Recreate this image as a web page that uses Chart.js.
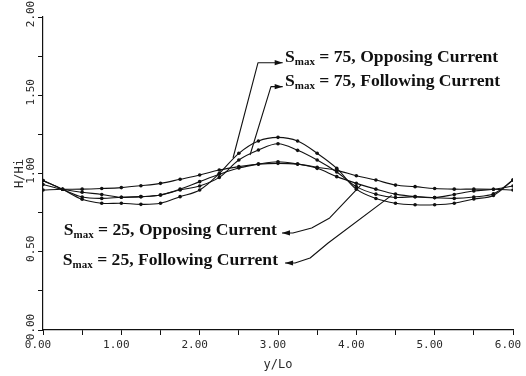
<!DOCTYPE html>
<html>
<head>
<meta charset="utf-8">
<script src="https://cdn.jsdelivr.net/npm/chart.js@4.4.1/dist/chart.umd.min.js"></script>
<style>
  html, body { margin: 0; padding: 0; background: #ffffff; }
  #wrap { width: 526px; height: 376px; position: relative; }
</style>
</head>
<body>
<div id="wrap"><canvas id="c" width="526" height="376"></canvas></div>
<script>
// ---- data ----
const xValues = [0, 0.25, 0.5, 0.75, 1, 1.25, 1.5, 1.75, 2, 2.25, 2.5, 2.75, 3,
                 3.25, 3.5, 3.75, 4, 4.25, 4.5, 4.75, 5, 5.25, 5.5, 5.75, 6];
const smax75Opposing = [0.955, 0.899, 0.835, 0.81, 0.81, 0.803, 0.81, 0.852, 0.895, 1.0, 1.129, 1.208, 1.231,
                        1.208, 1.129, 1.033, 0.9, 0.84, 0.81, 0.80, 0.80, 0.81, 0.837, 0.86, 0.958];
const smax75Following = [0.955, 0.899, 0.85, 0.841, 0.848, 0.852, 0.863, 0.895, 0.92, 0.975, 1.086, 1.15, 1.19,
                         1.148, 1.086, 1.01, 0.916, 0.868, 0.847, 0.852, 0.846, 0.841, 0.85, 0.87, 0.958];
const smax25Opposing = [0.93, 0.899, 0.88, 0.866, 0.848, 0.852, 0.863, 0.90, 0.948, 0.995, 1.035, 1.06, 1.075,
                        1.06, 1.033, 0.98, 0.937, 0.90, 0.868, 0.852, 0.846, 0.866, 0.888, 0.899, 0.92];
const smax25Following = [0.895, 0.899, 0.90, 0.904, 0.91, 0.922, 0.937, 0.963, 0.99, 1.022, 1.044, 1.06, 1.065,
                         1.06, 1.04, 1.02, 0.986, 0.958, 0.926, 0.916, 0.904, 0.90, 0.90, 0.899, 0.895];
const seriesNames = ['Smax = 75, Opposing Current', 'Smax = 75, Following Current',
                     'Smax = 25, Opposing Current', 'Smax = 25, Following Current'];
const yTickLabels = ['0.00', '0.50', '1.00', '1.50', '2.00'];
const yTickValues = [0, 0.5, 1, 1.5, 2];
const xTitle = 'y/Lo';
const yTitle = 'H/Hi';

// annotation labels: [value shown, current name]
const annotationTexts = [
  ['75', 'Opposing Current'],
  ['75', 'Following Current'],
  ['25', 'Opposing Current'],
  ['25', 'Following Current']
];

function pts(ys) { return xValues.map((x, i) => ({ x: x, y: ys[i] })); }

const lineStyle = {
  borderColor: '#111',
  backgroundColor: '#111',
  borderWidth: 1.1,
  pointRadius: 1.8,
  pointBackgroundColor: '#111',
  pointBorderWidth: 0,
  tension: 0.35,
  fill: false
};

const tickFont = { family: '"DejaVu Sans Mono", monospace', size: 11 };
const ink = '#2a2a2a';

// annotation placement, in data units (x, y)
const annotationLayout = [
  { textAt: [3.089, 1.712], align: 'left',  path: [[2.426, 1.099], [2.745, 1.708], [3.06, 1.708]] },
  { textAt: [3.089, 1.559], align: 'left',  path: [[2.643, 1.118], [2.91, 1.555], [3.06, 1.555]] },
  { textAt: [2.987, 0.607], align: 'right', path: [[4.06, 0.927], [3.66, 0.716], [3.43, 0.652], [3.19, 0.62], [3.051, 0.62]] },
  { textAt: [3.0, 0.415],   align: 'right', path: [[4.45, 0.86], [3.64, 0.556], [3.41, 0.46], [3.217, 0.428], [3.09, 0.428]] }
];

const annotPlugin = {
  id: 'annot',
  afterDraw(chart) {
    const ctx = chart.ctx;
    const xs = chart.scales.x, ys = chart.scales.y;
    ctx.save();
    // y tick labels (rotated, plotter style)
    ctx.fillStyle = ink;
    ctx.font = '11px "DejaVu Sans Mono", monospace';
    ctx.textAlign = 'center';
    ctx.textBaseline = 'middle';
    yTickValues.forEach((v, i) => {
      const py = ys.getPixelForValue(v);
      ctx.save();
      ctx.translate(31, py - 3);
      ctx.rotate(-Math.PI / 2);
      ctx.fillText(yTickLabels[i], 0, 0);
      ctx.restore();
    });

    // annotations
    const base = 16;
    const stretch = 1.1;
    ctx.fillStyle = '#111';
    ctx.strokeStyle = '#111';
    ctx.lineWidth = 1.1;
    ctx.lineJoin = 'round';
    annotationLayout.forEach((a, i) => {
      const [val, name] = annotationTexts[i];
      const p = a.path.map(q => [xs.getPixelForValue(q[0]), ys.getPixelForValue(q[1])]);
      ctx.beginPath();
      ctx.moveTo(p[0][0], p[0][1]);
      for (let k = 1; k < p.length; k++) ctx.lineTo(p[k][0], p[k][1]);
      ctx.stroke();
      // arrow head at last point
      const e = p[p.length - 1], s = p[p.length - 2];
      const ang = Math.atan2(e[1] - s[1], e[0] - s[0]);
      const L = 8, W = 2.6;
      ctx.beginPath();
      ctx.moveTo(e[0], e[1]);
      ctx.lineTo(e[0] - L * Math.cos(ang) + W * Math.sin(ang), e[1] - L * Math.sin(ang) - W * Math.cos(ang));
      ctx.lineTo(e[0] - L * Math.cos(ang) - W * Math.sin(ang), e[1] - L * Math.sin(ang) + W * Math.cos(ang));
      ctx.closePath();
      ctx.fill();

      // text: S + subscript max + rest
      const bigFont = 'bold ' + base + 'px "Liberation Serif", serif';
      const subFont = 'bold ' + Math.round(base * 0.65) + 'px "Liberation Serif", serif';
      const rest = ' = ' + val + ', ' + name;
      ctx.textBaseline = 'alphabetic';
      ctx.textAlign = 'left';
      ctx.font = bigFont; const wS = ctx.measureText('S').width; const wR = ctx.measureText(rest).width;
      ctx.font = subFont; const wM = ctx.measureText('max').width;
      const total = (wS + wM + wR) * stretch;
      let tx = xs.getPixelForValue(a.textAt[0]);
      const ty = ys.getPixelForValue(a.textAt[1]);
      if (a.align === 'right') tx -= total;
      ctx.save();
      ctx.translate(tx, ty);
      ctx.scale(stretch, 1);
      let cx = 0;
      ctx.font = bigFont; ctx.fillText('S', cx, 0); cx += wS;
      ctx.font = subFont; ctx.fillText('max', cx, 3); cx += wM;
      ctx.font = bigFont; ctx.fillText(rest, cx, 0);
      ctx.restore();
    });
    ctx.restore();
  }
};

new Chart(document.getElementById('c'), {
  type: 'line',
  data: {
    datasets: [
      Object.assign({ label: seriesNames[0], data: pts(smax75Opposing) }, lineStyle),
      Object.assign({ label: seriesNames[1], data: pts(smax75Following) }, lineStyle),
      Object.assign({ label: seriesNames[2], data: pts(smax25Opposing) }, lineStyle),
      Object.assign({ label: seriesNames[3], data: pts(smax25Following) }, lineStyle)
    ]
  },
  options: {
    responsive: false,
    animation: false,
    devicePixelRatio: 1,
    layout: { padding: { left: 0, top: 17, right: 13, bottom: 0 } },
    plugins: { legend: { display: false }, tooltip: { enabled: false } },
    scales: {
      x: {
        type: 'linear', min: 0, max: 6,
        border: { display: true, color: '#111', width: 1.2 },
        grid: { display: true, drawOnChartArea: false, drawTicks: true, tickLength: 5, color: '#111', lineWidth: 1 },
        ticks: {
          stepSize: 0.5, autoSkip: false, maxRotation: 0, padding: 4, labelOffset: -5,
          color: ink, font: tickFont,
          callback: v => (Math.abs(v - Math.round(v)) < 1e-9 ? v.toFixed(2) : '')
        },
        title: { display: true, text: xTitle, color: ink, font: { family: '"DejaVu Sans Mono", monospace', size: 12 }, padding: { top: 0, bottom: 4 } },
        afterFit: s => { s.height = 46; s.paddingLeft = 0; s.paddingRight = 0; }
      },
      y: {
        type: 'linear', min: 0, max: 2,
        border: { display: true, color: '#111', width: 1.2 },
        grid: { display: true, drawOnChartArea: false, drawTicks: true, tickLength: 5, color: '#111', lineWidth: 1 },
        ticks: { stepSize: 0.25, display: false },
        title: { display: true, text: yTitle, color: ink, font: { family: '"DejaVu Sans Mono", monospace', size: 12 }, padding: { top: 13, bottom: 0 } },
        afterFit: s => { s.width = 43; s.paddingTop = 0; s.paddingBottom = 0; }
      }
    }
  },
  plugins: [annotPlugin]
});
</script>
</body>
</html>
